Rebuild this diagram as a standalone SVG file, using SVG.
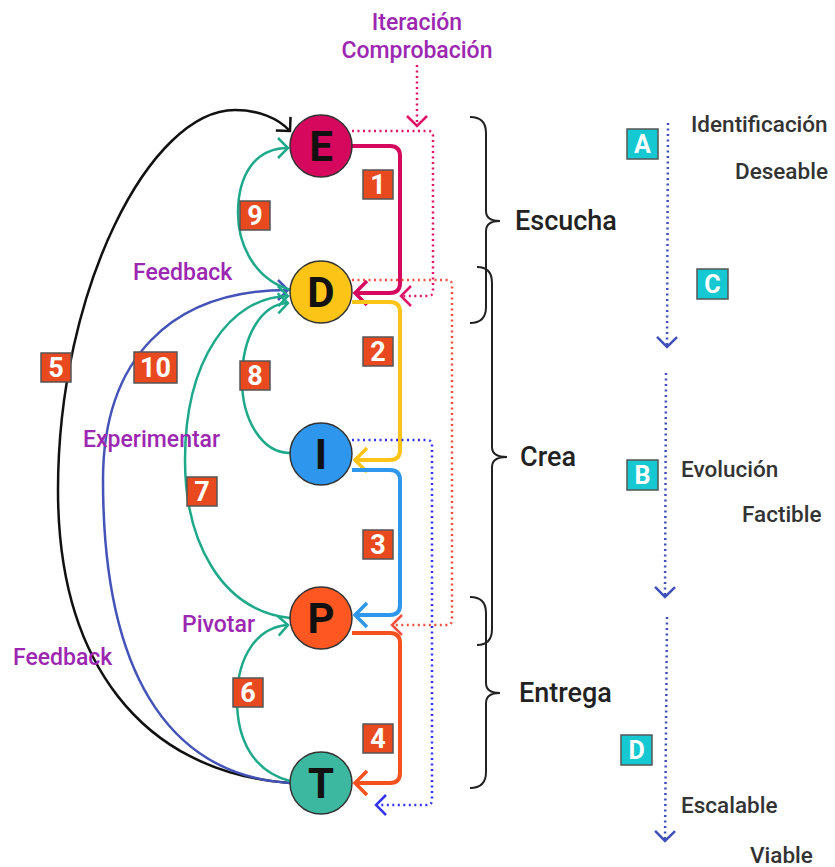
<svg xmlns="http://www.w3.org/2000/svg" width="835" height="867" viewBox="0 0 835 867">
<defs>
<style>
.node circle{stroke:#333;stroke-width:1.5}
.node text{font-family:Roboto,"Liberation Sans",sans-serif;font-weight:700;font-size:42px;fill:#111;text-anchor:middle}
.solid{fill:none;stroke-width:4;stroke-linejoin:round}
.curve{fill:none;stroke-width:2.5}
.dot{fill:none;stroke-width:2.5;stroke-dasharray:2 3.5}
.num rect{fill:#E8491E;stroke:#555;stroke-width:1.5}
.num text{font-family:Roboto,"Liberation Sans",sans-serif;font-weight:700;font-size:27px;fill:#fff;text-anchor:middle}
.let rect{fill:#15C8D2;stroke:#555;stroke-width:1.5}
.let text{font-family:Roboto,"Liberation Sans",sans-serif;font-weight:700;font-size:25px;fill:#fff;text-anchor:middle}
.purple{font-family:Roboto,"Liberation Sans",sans-serif;font-weight:500;font-size:23px;fill:#9C27B0}
.dark{font-family:Roboto,"Liberation Sans",sans-serif;font-weight:500;font-size:22.5px;fill:#333}
.phase{font-family:Roboto,"Liberation Sans",sans-serif;font-weight:500;font-size:27px;fill:#222}
.brace{fill:none;stroke:#222;stroke-width:2}
</style>
<marker id="aPink" markerUnits="userSpaceOnUse" viewBox="0 0 16 28" refX="14" refY="14" markerWidth="16" markerHeight="28" orient="auto"><path d="M2,2 L14,14 L2,26" fill="none" stroke="#D6085E" stroke-width="3.5"/></marker>
<marker id="aYel" markerUnits="userSpaceOnUse" viewBox="0 0 16 28" refX="14" refY="14" markerWidth="16" markerHeight="28" orient="auto"><path d="M2,2 L14,14 L2,26" fill="none" stroke="#FBC416" stroke-width="3.5"/></marker>
<marker id="aBlue" markerUnits="userSpaceOnUse" viewBox="0 0 16 28" refX="14" refY="14" markerWidth="16" markerHeight="28" orient="auto"><path d="M2,2 L14,14 L2,26" fill="none" stroke="#2E96EC" stroke-width="3.5"/></marker>
<marker id="aOr" markerUnits="userSpaceOnUse" viewBox="0 0 16 28" refX="14" refY="14" markerWidth="16" markerHeight="28" orient="auto"><path d="M2,2 L14,14 L2,26" fill="none" stroke="#F4511E" stroke-width="3.5"/></marker>
<marker id="aTeal" markerUnits="userSpaceOnUse" viewBox="0 0 14 24" refX="12" refY="12" markerWidth="14" markerHeight="24" orient="auto"><path d="M2,2 L12,12 L2,22" fill="none" stroke="#1FA98B" stroke-width="2.5"/></marker>
<marker id="aInd" markerUnits="userSpaceOnUse" viewBox="0 0 14 24" refX="12" refY="12" markerWidth="14" markerHeight="24" orient="auto"><path d="M2,2 L12,12 L2,22" fill="none" stroke="#4353B8" stroke-width="2.5"/></marker>
<marker id="aBlack" markerUnits="userSpaceOnUse" viewBox="0 0 14 24" refX="12" refY="12" markerWidth="14" markerHeight="24" orient="auto"><path d="M2,2 L12,12 L2,22" fill="none" stroke="#111" stroke-width="2.5"/></marker>
<marker id="dPink" markerUnits="userSpaceOnUse" viewBox="0 0 14 24" refX="12" refY="12" markerWidth="14" markerHeight="24" orient="auto"><path d="M2,2 L12,12 L2,22" fill="none" stroke="#E0156A" stroke-width="2.5"/></marker>
<marker id="dRed" markerUnits="userSpaceOnUse" viewBox="0 0 14 24" refX="12" refY="12" markerWidth="14" markerHeight="24" orient="auto"><path d="M2,2 L12,12 L2,22" fill="none" stroke="#F4503F" stroke-width="2.5"/></marker>
<marker id="dBlue" markerUnits="userSpaceOnUse" viewBox="0 0 14 24" refX="12" refY="12" markerWidth="14" markerHeight="24" orient="auto"><path d="M2,2 L12,12 L2,22" fill="none" stroke="#3535F0" stroke-width="2.5"/></marker>
<marker id="dInd" markerUnits="userSpaceOnUse" viewBox="0 0 14 24" refX="12" refY="12" markerWidth="14" markerHeight="24" orient="auto"><path d="M2,2 L12,12 L2,22" fill="none" stroke="#4050B8" stroke-width="2.5"/></marker>
</defs>
<rect width="835" height="867" fill="#fff"/>

<g id="connectors">
<path class="solid" stroke="#D6085E" d="M352 146 L390 146 Q400 146 400 156 L400 283 Q400 293 390 293 L355 293" marker-end="url(#aPink)"/>
<path class="solid" stroke="#FBC416" d="M352 302 L390 302 Q400 302 400 312 L400 450 Q400 460 390 460 L355 460" marker-end="url(#aYel)"/>
<path class="solid" stroke="#2E96EC" d="M352 470 L390 470 Q400 470 400 480 L400 605 Q400 615 390 615 L355 615" marker-end="url(#aBlue)"/>
<path class="solid" stroke="#F4511E" d="M352 633 L390 633 Q400 633 400 643 L400 773 Q400 783 390 783 L355 783" marker-end="url(#aOr)"/>
<path class="dot" stroke="#E0156A" d="M417 65 L417 126" marker-end="url(#dPink)"/>
<path class="dot" stroke="#E0156A" d="M352 131 L428 131 Q433 131 433 136 L433 291 Q433 296 428 296 L401 296" marker-end="url(#dPink)"/>
<path class="dot" stroke="#F4503F" d="M352 280 L447 280 Q452 280 452 285 L452 620 Q452 625 447 625 L392 625" marker-end="url(#dRed)"/>
<path class="dot" stroke="#3535F0" d="M352 440 L427 440 Q432 440 432 445 L432 800 Q432 805 427 805 L376 805" marker-end="url(#dBlue)"/>
<path class="curve" stroke="#111" d="M290 783 C140 772 58 660 58 490 C58 290 150 110 235 110 C258 110 278 118 290 131" marker-end="url(#aBlack)"/>
<path class="curve" stroke="#4353B8" d="M290 783 C180 776 103 690 103 480 C103 360 170 290 288 290" marker-end="url(#aInd)"/>
<path class="curve" stroke="#1FA98B" d="M290 618 C220 610 185 540 185 460 C185 360 230 297 288 296" marker-end="url(#aTeal)"/>
<path class="curve" stroke="#1FA98B" d="M290 453 C262 453 242 420 242 380 C242 335 262 304 288 303" marker-end="url(#aTeal)"/>
<path class="curve" stroke="#1FA98B" d="M291 290 C255 280 238 245 238 213 C238 175 255 148 288 148" marker-end="url(#aTeal)"/>
<path class="curve" stroke="#1FA98B" d="M290 781 C255 772 237 742 237 700 C237 655 258 627 288 625" marker-end="url(#aTeal)"/>
<path class="dot" stroke="#4050B8" d="M668 123 L667 347" marker-end="url(#dInd)"/>
<path class="dot" stroke="#4050B8" d="M666 373 L665 597" marker-end="url(#dInd)"/>
<path class="dot" stroke="#4050B8" d="M667 617 L665 841" marker-end="url(#dInd)"/>
</g>

<g id="node-E" class="node"><circle cx="321" cy="146" r="31" fill="#D6085E"/><text x="321" y="161">E</text></g>
<g id="node-D" class="node"><circle cx="321" cy="292" r="31" fill="#FBC416"/><text x="321" y="307">D</text></g>
<g id="node-I" class="node"><circle cx="321" cy="454" r="31" fill="#2E96EC"/><text x="321" y="469">I</text></g>
<g id="node-P" class="node"><circle cx="321" cy="618" r="31" fill="#FF5722"/><text x="321" y="633">P</text></g>
<g id="node-T" class="node"><circle cx="321" cy="783" r="31" fill="#3DB8A0"/><text x="321" y="798">T</text></g>

<g id="step-labels">
<g class="num"><rect x="363" y="170" width="30" height="29"/><text x="378" y="194">1</text></g>
<g class="num"><rect x="363" y="337" width="30" height="29"/><text x="378" y="361">2</text></g>
<g class="num"><rect x="363" y="530" width="30" height="29"/><text x="378" y="554">3</text></g>
<g class="num"><rect x="363" y="724" width="30" height="29"/><text x="378" y="748">4</text></g>
<g class="num"><rect x="41" y="353" width="30" height="29"/><text x="56" y="377">5</text></g>
<g class="num"><rect x="233" y="678" width="30" height="29"/><text x="248" y="702">6</text></g>
<g class="num"><rect x="187" y="477" width="30" height="29"/><text x="202" y="501">7</text></g>
<g class="num"><rect x="240" y="361" width="30" height="29"/><text x="255" y="385">8</text></g>
<g class="num"><rect x="240" y="201" width="30" height="29"/><text x="255" y="225">9</text></g>
<g class="num"><rect x="134" y="352" width="43" height="31"/><text x="155.5" y="377">10</text></g>
</g>

<g id="edge-texts">
<text class="purple" x="417" y="30" text-anchor="middle">Iteración</text>
<text class="purple" x="417" y="58" text-anchor="middle">Comprobación</text>
<text class="purple" x="133" y="280">Feedback</text>
<text class="purple" x="83" y="447">Experimentar</text>
<text class="purple" x="182" y="632">Pivotar</text>
<text class="purple" x="13" y="665">Feedback</text>
</g>

<g id="phases">
<path class="brace" d="M470 117 Q486 117 486 133 L486 211 Q486 221 500 221 Q486 221 486 231 L486 307 Q486 323 470 323"/>
<path class="brace" d="M477 267 Q492 267 492 283 L492 447 Q492 457 507 457 Q492 457 492 467 L492 629 Q492 645 477 645"/>
<path class="brace" d="M470 597 Q486 597 486 613 L486 683 Q486 693 500 693 Q486 693 486 703 L486 772 Q486 788 470 788"/>
<text class="phase" x="515" y="230">Escucha</text>
<text class="phase" x="520" y="466">Crea</text>
<text class="phase" x="519" y="702">Entrega</text>
</g>

<g id="stages">
<g class="let"><rect x="627" y="129" width="31" height="30"/><text x="642.5" y="153">A</text></g>
<g class="let"><rect x="697" y="269" width="31" height="30"/><text x="712.5" y="293">C</text></g>
<g class="let"><rect x="627" y="460" width="31" height="30"/><text x="642.5" y="484">B</text></g>
<g class="let"><rect x="621" y="735" width="31" height="30"/><text x="636.5" y="759">D</text></g>
<text class="dark" x="691" y="132">Identificación</text>
<text class="dark" x="735" y="179">Deseable</text>
<text class="dark" x="681" y="477">Evolución</text>
<text class="dark" x="742" y="522">Factible</text>
<text class="dark" x="681" y="813">Escalable</text>
<text class="dark" x="750" y="863">Viable</text>
</g>
</svg>
